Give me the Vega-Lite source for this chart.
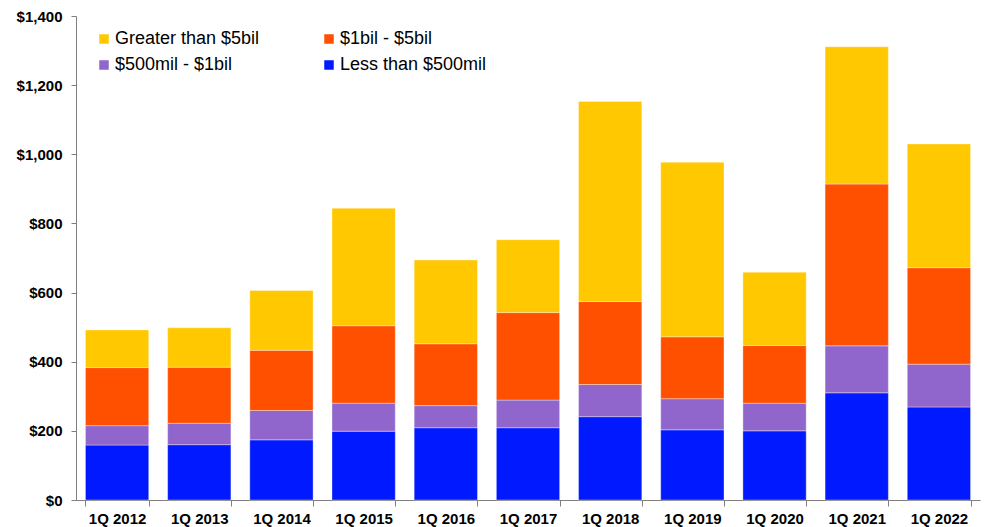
{
  "$schema": "https://vega.github.io/schema/vega-lite/v6.json",
  "autosize": {"type": "none"},
  "padding": {"left": 76, "top": 16, "right": 4, "bottom": 27},
  "width": 904,
  "height": 484,
  "background": "white",
  "data": {
    "values": [
      {"q": "1Q 2012", "cat": "Less than $500mil", "o": 1, "v": 159},
      {"q": "1Q 2012", "cat": "$500mil - $1bil", "o": 2, "v": 56},
      {"q": "1Q 2012", "cat": "$1bil - $5bil", "o": 3, "v": 168},
      {"q": "1Q 2012", "cat": "Greater than $5bil", "o": 4, "v": 109},
      {"q": "1Q 2013", "cat": "Less than $500mil", "o": 1, "v": 160},
      {"q": "1Q 2013", "cat": "$500mil - $1bil", "o": 2, "v": 62},
      {"q": "1Q 2013", "cat": "$1bil - $5bil", "o": 3, "v": 162},
      {"q": "1Q 2013", "cat": "Greater than $5bil", "o": 4, "v": 114},
      {"q": "1Q 2014", "cat": "Less than $500mil", "o": 1, "v": 174},
      {"q": "1Q 2014", "cat": "$500mil - $1bil", "o": 2, "v": 85},
      {"q": "1Q 2014", "cat": "$1bil - $5bil", "o": 3, "v": 174},
      {"q": "1Q 2014", "cat": "Greater than $5bil", "o": 4, "v": 173},
      {"q": "1Q 2015", "cat": "Less than $500mil", "o": 1, "v": 199},
      {"q": "1Q 2015", "cat": "$500mil - $1bil", "o": 2, "v": 81},
      {"q": "1Q 2015", "cat": "$1bil - $5bil", "o": 3, "v": 224},
      {"q": "1Q 2015", "cat": "Greater than $5bil", "o": 4, "v": 340},
      {"q": "1Q 2016", "cat": "Less than $500mil", "o": 1, "v": 209},
      {"q": "1Q 2016", "cat": "$500mil - $1bil", "o": 2, "v": 64},
      {"q": "1Q 2016", "cat": "$1bil - $5bil", "o": 3, "v": 179},
      {"q": "1Q 2016", "cat": "Greater than $5bil", "o": 4, "v": 242},
      {"q": "1Q 2017", "cat": "Less than $500mil", "o": 1, "v": 209},
      {"q": "1Q 2017", "cat": "$500mil - $1bil", "o": 2, "v": 80},
      {"q": "1Q 2017", "cat": "$1bil - $5bil", "o": 3, "v": 253},
      {"q": "1Q 2017", "cat": "Greater than $5bil", "o": 4, "v": 211},
      {"q": "1Q 2018", "cat": "Less than $500mil", "o": 1, "v": 241},
      {"q": "1Q 2018", "cat": "$500mil - $1bil", "o": 2, "v": 93},
      {"q": "1Q 2018", "cat": "$1bil - $5bil", "o": 3, "v": 240},
      {"q": "1Q 2018", "cat": "Greater than $5bil", "o": 4, "v": 579},
      {"q": "1Q 2019", "cat": "Less than $500mil", "o": 1, "v": 203},
      {"q": "1Q 2019", "cat": "$500mil - $1bil", "o": 2, "v": 90},
      {"q": "1Q 2019", "cat": "$1bil - $5bil", "o": 3, "v": 179},
      {"q": "1Q 2019", "cat": "Greater than $5bil", "o": 4, "v": 505},
      {"q": "1Q 2020", "cat": "Less than $500mil", "o": 1, "v": 200},
      {"q": "1Q 2020", "cat": "$500mil - $1bil", "o": 2, "v": 80},
      {"q": "1Q 2020", "cat": "$1bil - $5bil", "o": 3, "v": 167},
      {"q": "1Q 2020", "cat": "Greater than $5bil", "o": 4, "v": 212},
      {"q": "1Q 2021", "cat": "Less than $500mil", "o": 1, "v": 310},
      {"q": "1Q 2021", "cat": "$500mil - $1bil", "o": 2, "v": 136},
      {"q": "1Q 2021", "cat": "$1bil - $5bil", "o": 3, "v": 468},
      {"q": "1Q 2021", "cat": "Greater than $5bil", "o": 4, "v": 397},
      {"q": "1Q 2022", "cat": "Less than $500mil", "o": 1, "v": 269},
      {"q": "1Q 2022", "cat": "$500mil - $1bil", "o": 2, "v": 124},
      {"q": "1Q 2022", "cat": "$1bil - $5bil", "o": 3, "v": 279},
      {"q": "1Q 2022", "cat": "Greater than $5bil", "o": 4, "v": 358}
    ]
  },
  "mark": {"type": "bar", "stroke": "white", "strokeWidth": 1, "strokeOpacity": 0.35},
  "encoding": {
    "x": {
      "field": "q",
      "type": "nominal",
      "title": null,
      "scale": {"paddingInner": 0.23, "paddingOuter": 0.115},
      "axis": {
        "labelAngle": 0,
        "labelFont": "Liberation Sans",
        "labelFontWeight": "bold",
        "labelFontSize": 15,
        "labelColor": "black",
        "labelPadding": 5,
        "tickBand": "extent",
        "tickSize": 6,
        "tickColor": "#808080",
        "domainColor": "#808080",
        "grid": false
      }
    },
    "y": {
      "field": "v",
      "type": "quantitative",
      "aggregate": "sum",
      "stack": "zero",
      "title": null,
      "scale": {"domain": [0, 1400], "nice": false},
      "axis": {
        "values": [0, 200, 400, 600, 800, 1000, 1200, 1400],
        "format": "$,.0f",
        "labelFont": "Liberation Sans",
        "labelFontWeight": "bold",
        "labelFontSize": 15,
        "labelColor": "black",
        "labelPadding": 9,
        "tickSize": 5,
        "tickColor": "#808080",
        "domainColor": "#808080",
        "grid": false
      }
    },
    "color": {
      "field": "cat",
      "type": "nominal",
      "scale": {
        "domain": ["Greater than $5bil", "$1bil - $5bil", "$500mil - $1bil", "Less than $500mil"],
        "range": ["#FFC800", "#FF5000", "#9066CC", "#0019FF"]
      },
      "legend": {
        "title": null,
        "orient": "none",
        "direction": "horizontal",
        "legendX": 19,
        "legendY": 14,
        "columns": 2,
        "columnPadding": 60,
        "rowPadding": 8,
        "symbolType": "square",
        "symbolSize": 90,
        "symbolStrokeWidth": 0,
        "labelFont": "Liberation Sans",
        "labelFontSize": 18,
        "labelColor": "black",
        "labelOffset": 2,
        "labelLimit": 300
      }
    },
    "order": {"field": "o", "type": "quantitative"}
  },
  "config": {"view": {"stroke": null}}
}
